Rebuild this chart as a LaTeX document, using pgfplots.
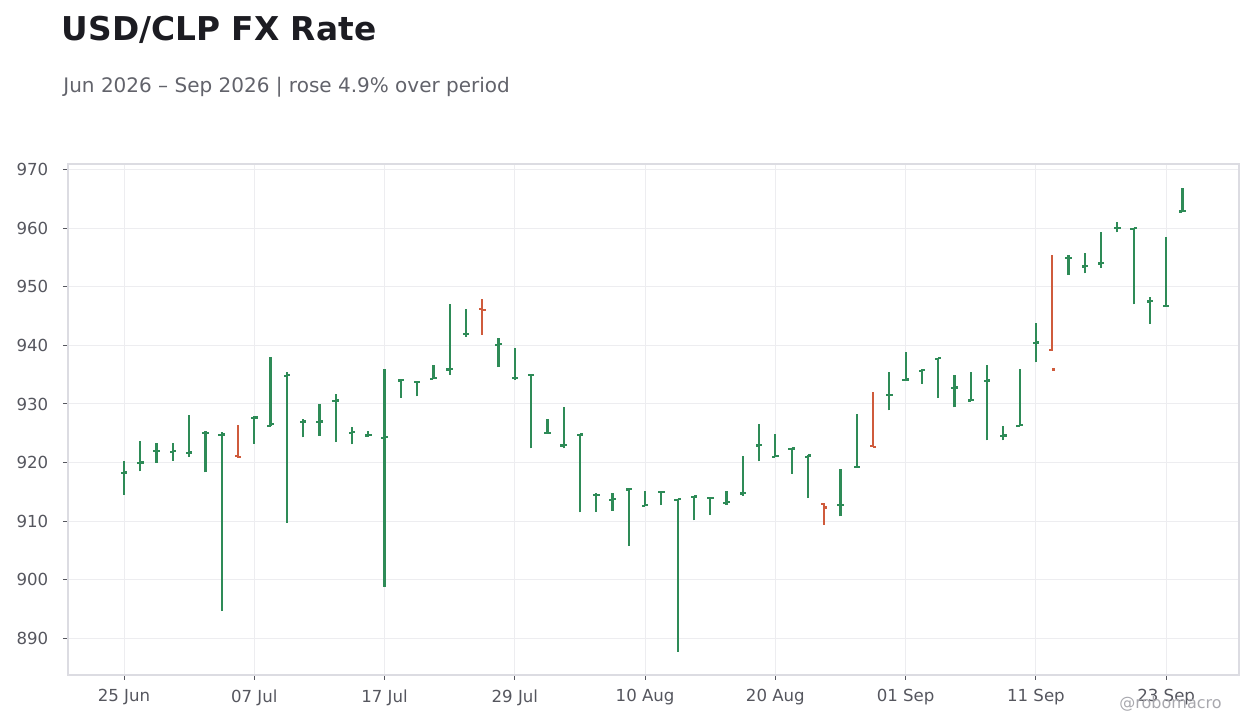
\documentclass[border=0pt]{standalone}
\usepackage{fontspec}
\setmainfont{DejaVu Sans}
\usepackage{pgfplots}
\usepackage{pgfplotstable}
\pgfplotsset{compat=1.18}

\definecolor{upc}{HTML}{2E8B57}
\definecolor{dnc}{HTML}{CF5B3C}
\definecolor{gridc}{HTML}{EDEDF0}
\definecolor{framec}{HTML}{DCDCE2}
\definecolor{labc}{HTML}{55565E}
\definecolor{titlec}{HTML}{1C1C22}
\definecolor{subc}{HTML}{62636B}
\definecolor{markc}{HTML}{A8A8AE}

% i = business day since 25 Jun 2026; open, high, low, close
\pgfplotstableread{
i  o     h     l     c
0  918.2 920.3 914.5 918.3
1  919.9 923.7 918.5 920.0
2  921.9 923.4 920.0 922.0
3  921.8 923.4 920.3 921.9
4  921.6 928.1 921.0 921.7
5  925.0 925.3 918.3 925.1
6  924.7 925.2 894.6 924.8
8  927.6 928.0 923.2 927.7
9  926.3 938.1 926.3 926.6
10 934.8 935.4 909.7 935.0
11 926.9 927.4 924.3 927.0
12 926.9 930.0 924.6 927.0
13 930.5 931.7 923.5 930.6
14 925.1 926.0 923.1 925.2
15 924.6 925.4 924.4 924.7
16 924.2 936.0 898.8 924.3
17 934.0 934.2 931.1 934.1
18 933.7 933.9 931.3 933.8
19 934.3 936.7 934.2 934.4
20 935.9 947.0 935.0 936.0
21 941.9 946.3 941.5 942.0
23 940.1 941.3 936.3 940.2
24 934.4 939.6 934.1 934.5
25 934.9 935.0 922.4 935.0
26 925.0 927.5 925.0 925.1
27 922.9 929.5 922.4 923.0
28 924.7 924.8 911.5 924.8
29 914.4 914.8 911.6 914.5
30 913.6 914.8 911.8 913.7
31 915.4 915.6 905.8 915.5
32 912.6 915.2 912.5 912.7
33 914.9 915.1 912.7 915.0
34 913.6 913.7 887.7 913.7
35 914.1 914.2 910.1 914.2
36 913.9 914.0 911.0 914.0
37 913.1 915.2 912.7 913.2
38 914.7 921.1 914.3 914.8
39 922.9 926.6 920.2 923.0
40 921.0 924.9 920.9 921.1
41 922.3 922.4 918.1 922.4
42 921.0 921.2 913.9 921.2
44 912.7 918.9 910.8 912.8
45 919.2 928.3 919.2 919.3
47 931.5 935.5 928.9 931.6
48 934.1 938.9 934.1 934.2
49 935.7 936.0 933.5 935.8
50 937.7 937.9 931.0 937.8
51 932.7 935.0 929.4 932.8
52 930.6 935.4 930.6 930.7
53 933.9 936.6 923.8 934.0
54 924.5 926.3 923.8 924.6
55 926.3 936.0 926.3 926.4
56 940.4 943.9 937.1 940.5
58 954.9 955.4 952.1 955.0
59 953.5 955.8 952.3 953.6
60 954.0 959.4 953.3 954.1
61 960.0 961.1 959.3 960.1
62 959.9 960.1 947.0 960.1
63 947.5 948.2 943.7 947.6
64 946.7 958.5 946.7 946.8
65 962.9 966.9 962.9 963.0
}\upbars

\pgfplotstableread{
i  o     h     l     c
7  921.1 926.4 920.8 920.9
22 946.2 948.0 941.8 946.1
43 912.9 913.1 909.4 912.3
46 922.8 932.0 922.7 922.7
57 939.2 955.4 939.1 935.9
}\downbars

% one OHLC series: high-low stem, open tick left, close tick right
\newcommand{\ohlc}[2]{%
  \addplot[draw=none, mark=none, error bars/.cd, y dir=plus, y explicit,
    error mark=none, error bar style={draw=#2, line width=1.1pt}]
    table[x=i, y=l, y error expr=\thisrow{h}-\thisrow{l}] {#1};
  \addplot[draw=none, mark=none, error bars/.cd, x dir=minus, x fixed=0.2,
    error mark=none, error bar style={draw=#2, line width=1.1pt}]
    table[x=i, y=o] {#1};
  \addplot[draw=none, mark=none, error bars/.cd, x dir=plus, x fixed=0.2,
    error mark=none, error bar style={draw=#2, line width=1.1pt}]
    table[x=i, y=c] {#1};
}

\begin{document}
\begin{tikzpicture}
\useasboundingbox (-34pt,-26.5pt) rectangle (596pt,337.5pt);
\begin{axis}[
    at={(0,0)}, anchor=south west,
    scale only axis,
    width=585.5pt, height=255.5pt,
    xmin=-3.44, xmax=68.47,
    ymin=883.7, ymax=971.0,
    xtick={0,8,...,64},
    xticklabels={25 Jun,07 Jul,17 Jul,29 Jul,10 Aug,20 Aug,01 Sep,11 Sep,23 Sep},
    ytick={890,900,...,970},
    grid=major,
    grid style={draw=gridc, line width=0.5pt},
    axis line style={draw=framec, line width=0.6pt},
    tick pos=left,
    tick align=outside,
    major tick length=2.5pt,
    tick style={draw=labc, line width=0.5pt},
    every tick label/.append style={font=\fontsize{8.3}{10}\selectfont, text=labc},
    xticklabel style={inner sep=0pt, yshift=-4.5pt},
    yticklabel style={inner sep=0pt, xshift=-7.2pt},
    /pgf/number format/assume math mode=true,
]
\ohlc{\upbars}{upc}
\ohlc{\downbars}{dnc}
\end{axis}
\node[anchor=base west, inner sep=0pt, text=titlec, font=\fontsize{16.4}{20}\selectfont\bfseries]
  at (-3.2pt,317.2pt) {USD/CLP FX Rate};
\node[anchor=base west, inner sep=0pt, text=subc, font=\fontsize{10}{12}\selectfont]
  at (-2.5pt,291.4pt) {Jun 2026 – Sep 2026 | rose 4.9\% over period};
\node[anchor=base east, inner sep=0pt, text=markc, font=\fontsize{8}{10}\selectfont]
  at (577pt,-17pt) {@robomacro};
\end{tikzpicture}
\end{document}
